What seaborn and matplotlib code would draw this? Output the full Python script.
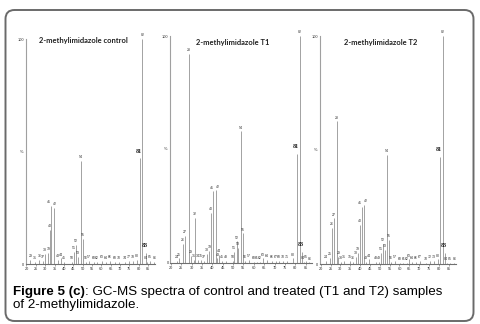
import numpy as np
import pandas as pd
import matplotlib
matplotlib.use("Agg")
import matplotlib.pyplot as plt
import seaborn as sns
from matplotlib.patches import FancyBboxPatch
from matplotlib.transforms import IdentityTransform
from matplotlib.ticker import MultipleLocator

# ---------------- data ----------------
titles = ["2-methylimidazole control", "2-methylimidazole T1", "2-methylimidazole T2"]

ctrl_mz = [22.1, 24.3, 26.9, 29.0, 29.8, 31.7, 32.5, 33.0, 34.6, 37.0, 38.6, 40.2, 44.5, 45.5,
           46.6, 47.7, 49.3, 50.3, 51.9, 53.5, 56.2, 57.8, 60.4, 62.6, 64.7, 67.3, 69.5, 72.7,
           74.8, 76.9, 79.3, 80.9, 82.0, 83.8, 84.6, 86.0, 88.1]
ctrl_int = [2, 1, 2, 1.5, 4.5, 5, 15, 26, 25, 2, 2.5, 0.8, 1, 5.5, 8.5, 3, 46, 11, 1, 1.5,
            0.8, 0.8, 1.5, 1, 1.5, 0.8, 0.8, 0.8, 1.5, 1.5, 2, 47, 100, 5, 0.8, 1.5, 0.8]
ctrl_lab = ["29", "31", "36", "37", "38", "39", "40", "41", "42", "43", "44", "45", "50", "51",
            "52", "53", "54", "55", "56", "57", "60", "62", "63", "64", "66", "68", "70", "74",
            "77", "78", "80", "81", "82", "83", "84", "85", "86"]

t1_mz = [22.8, 24.0, 25.7, 26.9, 28.5, 29.7, 31.0, 31.7, 33.0, 34.5, 35.9, 37.5, 38.5, 39.4,
         40.3, 41.8, 42.4, 43.3, 44.5, 46.6, 49.8, 50.4, 51.7, 52.5, 53.9, 54.8, 55.6, 57.5,
         60.1, 61.5, 63.0, 64.3, 66.4, 68.8, 70.5, 72.2, 74.1, 76.0, 78.9, 80.7, 82.2, 83.2,
         84.0, 85.1, 86.7]
t1_int = [1, 2, 8.3, 12, 92, 3, 1.5, 20, 1.5, 1.5, 1, 4, 5.5, 22, 31.5, 32, 2, 3.5, 0.8, 1,
          1, 5, 9.5, 6.5, 58, 13, 1, 1.5, 0.5, 0.5, 0.5, 2, 1.5, 0.8, 0.8, 0.8, 1, 0.8, 2, 48,
          100, 5, 0.5, 1, 0.3]
t1_lab = ["24", "25", "26", "27", "28", "29", "31", "32", "34", "35", "37", "38", "39", "40",
          "41", "42", "43", "44", "45", "48", "50", "51", "52", "53", "54", "55", "56", "57",
          "60", "61", "62", "63", "64", "66", "67", "68", "70", "71", "80", "81", "82", "83",
          "84", "85", "86"]

t2_mz = [22.7, 24.7, 25.7, 26.9, 28.1, 29.0, 30.2, 31.8, 34.9, 36.5, 37.8, 38.8, 39.9, 40.8,
         42.0, 43.0, 44.7, 48.1, 49.7, 50.6, 51.8, 52.8, 53.8, 54.8, 55.8, 57.9, 60.3, 62.0,
         63.8, 64.7, 66.3, 68.4, 70.4, 73.5, 75.5, 77.4, 79.7, 80.6, 82.1, 83.2, 84.0, 85.6,
         87.7]
t2_int = [1.5, 2.5, 15.7, 20, 62.5, 3, 1, 1.5, 1.5, 1, 3, 5, 17, 25, 26, 1, 2, 1, 0.8, 5,
          8.7, 6, 48, 10.5, 1, 1.5, 0.5, 0.5, 0.5, 2, 1, 0.8, 1.5, 0.5, 1.5, 1.5, 2, 47, 100,
          5, 0.5, 0.3, 0.3]
t2_lab = ["24", "25", "26", "27", "28", "29", "30", "31", "35", "36", "38", "39", "40", "41",
          "42", "43", "44", "48", "49", "51", "52", "53", "54", "55", "56", "57", "60", "61",
          "62", "63", "64", "66", "67", "70", "72", "73", "80", "81", "82", "83", "84", "85",
          "86"]

xtick_vals = [20, 25, 30, 35, 40, 45, 50, 55, 60, 65, 70, 75, 80, 85]
ytick_vals = [0, 100]
ytick_labels = ["0", "100"]
big_labels = ["81", "83"]

caption_bold = "Figure 5 (c)"
caption_rest = ": GC-MS spectra of control and treated (T1 and T2) samples"
caption_line2 = "of 2-methylimidazole."

# ---------------- style ----------------
sns.set_theme(style="white")
plt.rcParams['font.family'] = ['Liberation Sans', 'DejaVu Sans']

W, H = 480, 324
fig = plt.figure(figsize=(4.8, 3.24), dpi=100)
fig.patch.set_facecolor("white")


def px_axes(x0, y_top, w, h):
    return fig.add_axes([x0 / W, (H - y_top - h) / H, w / W, h / H])


# layout: (x0, top, width, height, xlim, title centre x, title y)
layouts = [
    (26.1, 39, 129.0, 225, (19.8, 88.8), 83, 40),
    (170.2, 36, 141.6, 227, (19.6, 88.0), 233, 42),
    (319.9, 36, 135.7, 228, (19.6, 88.5), 381, 42),
]

spectra = [
    pd.DataFrame({"mz": ctrl_mz, "intensity": ctrl_int, "label": ctrl_lab}),
    pd.DataFrame({"mz": t1_mz, "intensity": t1_int, "label": t1_lab}),
    pd.DataFrame({"mz": t2_mz, "intensity": t2_int, "label": t2_lab}),
]

# label alignment tweaks to avoid collisions between neighbouring peak labels
label_align = {"41": ("right", 0.3), "42": ("left", -0.3),
               "84": ("right", 0.4), "86": ("left", -0.4)}

bar_color = "#a2a2a2"
for (x0, top, w, h, xl, tx, ty), df, title in zip(layouts, spectra, titles):
    ax = px_axes(x0, top, w, h)
    ax.set_facecolor("none")
    ax.vlines(df["mz"], 0, df["intensity"], color=bar_color, lw=0.7)
    ax.set_xlim(*xl)
    ax.set_ylim(0, 100)
    sns.despine(ax=ax)
    ax.spines["left"].set_color("#a0a0a0")
    ax.spines["left"].set_linewidth(0.8)
    ax.spines["bottom"].set_color("#707070")
    ax.spines["bottom"].set_linewidth(0.8)
    ax.set_xticks(xtick_vals)
    ax.set_xticklabels([str(v) for v in xtick_vals])
    ax.xaxis.set_minor_locator(MultipleLocator(1))
    ax.tick_params(axis="x", which="major", bottom=True, length=1.6, width=0.4,
                   color="#606060", labelsize=2.8, pad=0.8, labelcolor="#303030")
    ax.tick_params(axis="x", which="minor", bottom=True, length=0.8, width=0.3,
                   color="#808080")
    ax.set_yticks(ytick_vals)
    ax.set_yticklabels(ytick_labels)
    ax.tick_params(axis="y", left=False, length=0, labelsize=2.8, pad=1.2,
                   labelcolor="#303030")
    ax.text(-2.5 / w, 0.5, "%", transform=ax.transAxes, fontsize=2.8,
            ha="right", va="center", color="#303030")
    for m, v, lab in zip(df["mz"], df["intensity"], df["label"]):
        if lab in big_labels:
            ax.text(m - 0.6, v + 2.0, lab, ha="center", va="bottom", fontsize=4.4,
                    fontweight="bold", family=["Liberation Serif"], color="#202020",
                    clip_on=False)
        else:
            ha, dx = label_align.get(lab, ("center", 0.0))
            ax.text(m + dx, v + 0.8, lab, ha=ha, va="bottom", fontsize=2.5,
                    color="#303030", clip_on=False)
    fig.text(tx / W, 1 - ty / H, title, ha="center", va="center", fontsize=5.4,
             fontweight="bold", family=["Lato", "DejaVu Sans"], color="#202020")

# frame
frame = FancyBboxPatch((5.5, 3.0), 468.0, 311.0,
                       boxstyle="round,pad=0,rounding_size=9",
                       transform=IdentityTransform(), fill=False,
                       edgecolor="#6a6a6a", linewidth=1.4)
fig.add_artist(frame)

# caption
cap_y1 = 1 - 295.0 / H
cap_y2 = 1 - 308.0 / H
cap_size = 9.6
t_bold = fig.text(13 / W, cap_y1, caption_bold, fontsize=cap_size, fontweight="bold",
                  va="baseline", ha="left", color="black")
fig.canvas.draw()
bb = t_bold.get_window_extent(renderer=fig.canvas.get_renderer())
fig.text(bb.x1 / W, cap_y1, caption_rest, fontsize=cap_size, va="baseline", ha="left",
         color="black")
fig.text(13 / W, cap_y2, caption_line2, fontsize=cap_size, va="baseline", ha="left",
         color="black")

fig.savefig("out.png", dpi=100, facecolor="white")
